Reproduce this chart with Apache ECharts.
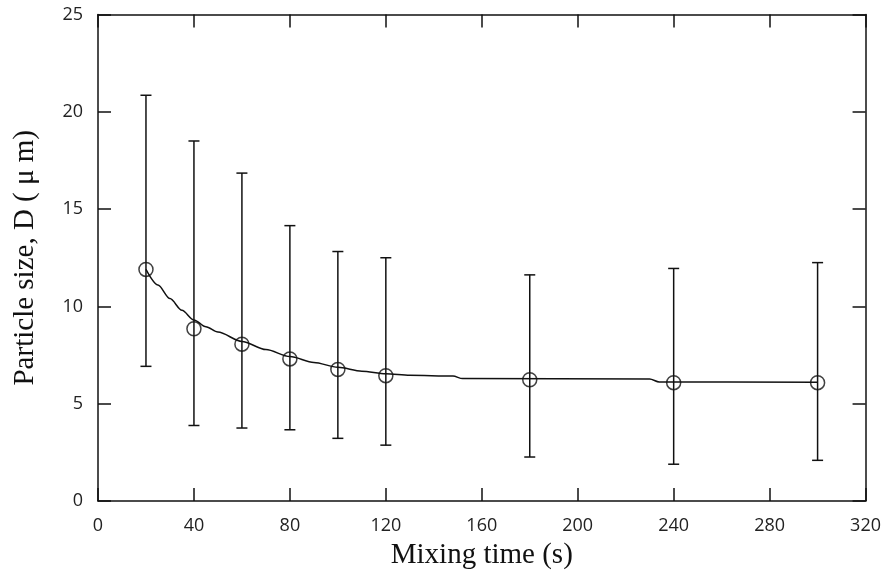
<!DOCTYPE html>
<html>
<head>
<meta charset="utf-8">
<script src="https://cdn.jsdelivr.net/npm/echarts@6/dist/echarts.min.js"></script>
<style>html,body{margin:0;padding:0;background:#fff;}#chart{width:884px;height:575px;}</style>
</head>
<body>
<div id="chart"></div>
<script>
// Measured data
const mixingTime = [20, 40, 60, 80, 100, 120, 180, 240, 300];
const particleSize = [11.9, 8.85, 8.06, 7.3, 6.76, 6.44, 6.23, 6.08, 6.08];
const errorHigh = [20.85, 18.5, 16.85, 14.15, 12.82, 12.5, 11.62, 11.95, 12.25];
const errorLow = [6.92, 3.88, 3.75, 3.66, 3.22, 2.87, 2.26, 1.89, 2.09];
// Fitted curve
const fitTime = [20, 25, 30, 35, 40, 45, 50, 60, 70, 80, 90, 100, 110, 120, 130, 148, 152, 230, 234, 300];
const fitSize = [11.9, 11.1, 10.4, 9.8, 9.3, 8.95, 8.68, 8.2, 7.78, 7.42, 7.12, 6.87, 6.67, 6.54, 6.46, 6.42, 6.29, 6.27, 6.12, 6.1];
const xTicks = [0, 40, 80, 120, 160, 200, 240, 280, 320];
const yTicks = [0, 5, 10, 15, 20, 25];

const chart = echarts.init(document.getElementById('chart'));
const lineStyle = { color: '#111', width: 1.5 };
const tickLabel = { color: '#222', fontSize: 18, fontFamily: 'Open Sans' };
const nameStyle = { color: '#111', fontSize: 29, fontFamily: 'Liberation Serif' };
const axisLine = { show: true, onZero: false, lineStyle };
const axisTick = { show: true, inside: true, length: 13, lineStyle };

const fitData = fitTime.map((t, i) => [t, fitSize[i]]);
const pointData = mixingTime.map((t, i) => [t, particleSize[i]]);
const errData = mixingTime.map((t, i) => [t, errorLow[i], errorHigh[i]]);

chart.setOption({
  animation: false,
  grid: { left: 98, right: 18, top: 14.5, bottom: 69.5, containLabel: false },
  xAxis: [
    {
      type: 'value', position: 'bottom', min: xTicks[0], max: xTicks[xTicks.length - 1], interval: 40,
      name: 'Mixing time (s)', nameLocation: 'middle', nameGap: 40, nameTextStyle: nameStyle,
      axisLine, axisTick,
      axisLabel: { ...tickLabel, margin: 16 }, splitLine: { show: false }
    },
    {
      type: 'value', position: 'top', min: xTicks[0], max: xTicks[xTicks.length - 1], interval: 40,
      axisLine, axisTick,
      axisLabel: { show: false }, splitLine: { show: false }
    }
  ],
  yAxis: [
    {
      type: 'value', position: 'left', min: yTicks[0], max: yTicks[yTicks.length - 1], interval: 5,
      name: 'Particle size, D ( μ m)', nameLocation: 'middle', nameGap: 58, nameTextStyle: nameStyle,
      axisLine, axisTick,
      axisLabel: { ...tickLabel, margin: 15 }, splitLine: { show: false }
    },
    {
      type: 'value', position: 'right', min: yTicks[0], max: yTicks[yTicks.length - 1], interval: 5,
      axisLine, axisTick,
      axisLabel: { show: false }, splitLine: { show: false }
    }
  ],
  series: [
    {
      type: 'custom', name: 'error', data: errData, z: 2,
      renderItem: function (params, api) {
        const x = api.value(0);
        const lo = api.coord([x, api.value(1)]);
        const hi = api.coord([x, api.value(2)]);
        const w = 5.5;
        const st = { stroke: '#111', lineWidth: 1.5 };
        return {
          type: 'group',
          children: [
            { type: 'line', shape: { x1: lo[0], y1: lo[1], x2: hi[0], y2: hi[1] }, style: st },
            { type: 'line', shape: { x1: lo[0] - w, y1: lo[1], x2: lo[0] + w, y2: lo[1] }, style: st },
            { type: 'line', shape: { x1: hi[0] - w, y1: hi[1], x2: hi[0] + w, y2: hi[1] }, style: st }
          ]
        };
      }
    },
    {
      type: 'line', name: 'fit', data: fitData, smooth: 0.3, smoothMonotone: 'x',
      showSymbol: false, symbol: 'none', lineStyle: { color: '#111', width: 1.5 }, z: 3
    },
    {
      type: 'scatter', name: 'points', data: pointData, symbol: 'circle', symbolSize: 14,
      itemStyle: { color: 'rgba(0,0,0,0)', borderColor: '#111', borderWidth: 1.5 }, z: 4
    }
  ]
});
</script>
</body>
</html>
